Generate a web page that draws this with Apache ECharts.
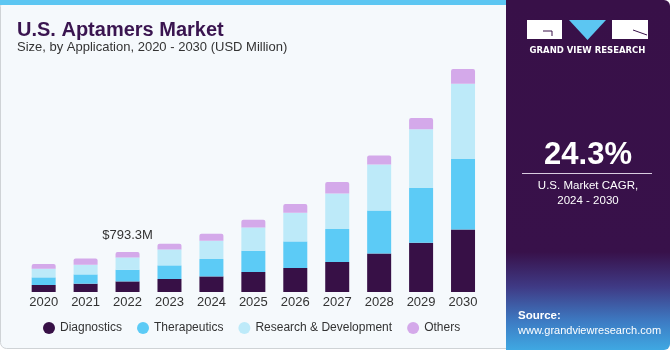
<!DOCTYPE html>
<html>
<head>
<meta charset="utf-8">
<script src="https://cdn.jsdelivr.net/npm/echarts@6/dist/echarts.min.js"></script>
<style>
    html, body { margin: 0; padding: 0; background: #ffffff; }
    #main { width: 670px; height: 350px; }
</style>
</head>
<body>
<div id="main"></div>
<script>
// data, USD million
var years = ['2020', '2021', '2022', '2023', '2024', '2025', '2026', '2027', '2028', '2029', '2030'];
var diagnostics = [139, 165, 210, 258, 309, 397, 476, 595, 765, 978, 1241];
var therapeutics = [151, 184, 232, 270, 345, 422, 527, 654, 853, 1085, 1396];
var researchDev = [173, 192, 244, 317, 363, 462, 569, 706, 912, 1162, 1493];
var others = [93, 125, 107, 113, 139, 153, 173, 226, 175, 226, 292];
var callout = { index: 2, text: '$793.3M' };
var cagrText = '24.3%';

var colors = ['#371046', '#5ccbf6', '#bdeaf9', '#d4a9ea'];

var myChart = echarts.init(document.getElementById('main'), null, {renderer: 'canvas'});

var othersData = [];
for (var i = 0; i < others.length; i++) {
    if (i === callout.index) {
        othersData.push({
            value: others[i],
            label: {
                show: true,
                position: 'top',
                distance: 10,
                formatter: callout.text,
                color: '#333333',
                fontSize: 13,
                fontFamily: 'Liberation Sans'
            }
        });
    } else {
        othersData.push(others[i]);
    }
}

function barSeries(name, data, color, radius) {
    return {
        name: name,
        type: 'bar',
        stack: 'total',
        barWidth: 24,
        itemStyle: {
            color: color,
            borderRadius: radius ? [2, 2, 0, 0] : 0
        },
        emphasis: { disabled: true },
        data: data
    };
}

var option = {
    animation: false,
    backgroundColor: '#ffffff',
    color: colors,
    graphic: [
        // left panel
        { type: 'rect', z: -10, shape: { x: 0.5, y: 0.5, width: 520, height: 348, r: 6 },
          style: { fill: '#f5f9fc', stroke: '#cfd3d6', lineWidth: 1 } },
        { type: 'rect', z: -9, shape: { x: 0, y: 0, width: 510, height: 5 },
          style: { fill: '#5cc6f2' } },
        { type: 'text', left: 17, top: 20,
          style: { text: 'U.S. Aptamers Market', fill: '#3a1550', font: 'bold 20px "Liberation Sans", Arial' } },
        { type: 'text', left: 17, top: 41,
          style: { text: 'Size, by Application, 2020 - 2030 (USD Million)', fill: '#333333', font: '13px "Liberation Sans", Arial' } },
        // right panel
        { type: 'rect', z: -8, shape: { x: 506, y: 0, width: 164, height: 350, r: [0, 6, 6, 0] },
          style: {
              fill: new echarts.graphic.LinearGradient(0, 0, 0, 1, [
                  { offset: 0, color: '#381048' },
                  { offset: 0.72, color: '#38114a' },
                  { offset: 0.82, color: '#3f3a85' },
                  { offset: 0.92, color: '#3d7cc4' },
                  { offset: 1, color: '#3fa8e2' }
              ])
          } },
        // logo
        { type: 'rect', shape: { x: 527, y: 20, width: 35, height: 19 }, style: { fill: '#ffffff' } },
        { type: 'polyline', shape: { points: [[543, 31], [552, 31], [552, 36]] }, style: { stroke: '#381048', lineWidth: 1, fill: null } },
        { type: 'polygon', shape: { points: [[569, 20], [606, 20], [587.5, 40]] }, style: { fill: '#5cc6f2' } },
        { type: 'rect', shape: { x: 612, y: 20, width: 36, height: 19 }, style: { fill: '#ffffff' } },
        { type: 'line', shape: { x1: 633, y1: 30, x2: 647, y2: 35 }, style: { stroke: '#381048', lineWidth: 1 } },
        { type: 'text', x: 587.5, y: 51,
          style: { text: 'GRAND VIEW RESEARCH', fill: '#ffffff', font: 'bold 8.5px "DejaVu Sans", sans-serif', align: 'center', verticalAlign: 'middle' } },
        { type: 'text', x: 588, y: 155,
          style: { text: cagrText, fill: '#ffffff', font: 'bold 31px "Liberation Sans", Arial', align: 'center', verticalAlign: 'middle' } },
        { type: 'line', shape: { x1: 522, y1: 173.5, x2: 652, y2: 173.5 }, style: { stroke: '#d8cce0', lineWidth: 1 } },
        { type: 'text', x: 588, y: 186,
          style: { text: 'U.S. Market CAGR,', fill: '#ffffff', font: '11.5px "Liberation Sans", Arial', align: 'center', verticalAlign: 'middle' } },
        { type: 'text', x: 588, y: 201,
          style: { text: '2024 - 2030', fill: '#ffffff', font: '11.5px "Liberation Sans", Arial', align: 'center', verticalAlign: 'middle' } },
        { type: 'text', x: 518, y: 316,
          style: { text: 'Source:', fill: '#ffffff', font: 'bold 11.5px "Liberation Sans", Arial', verticalAlign: 'middle' } },
        { type: 'text', x: 518, y: 331,
          style: { text: 'www.grandviewresearch.com', fill: '#ffffff', font: '11px "Liberation Sans", Arial', verticalAlign: 'middle' } }
    ],
    legend: {
        left: 38,
        top: 317,
        itemWidth: 12,
        itemHeight: 12,
        itemGap: 15,
        icon: 'circle',
        textStyle: { color: '#333333', fontSize: 12, fontFamily: 'Liberation Sans' },
        data: ['Diagnostics', 'Therapeutics', 'Research & Development', 'Others']
    },
    grid: {
        left: 22.7,
        right: 186,
        top: 60,
        bottom: 58,
        containLabel: false
    },
    xAxis: {
        type: 'category',
        data: years,
        axisLine: { show: false },
        axisTick: { show: false },
        axisLabel: { interval: 0, color: '#333333', fontSize: 13, fontFamily: 'Liberation Sans', margin: 4 }
    },
    yAxis: {
        type: 'value',
        min: 0,
        max: 4600,
        show: false,
        splitLine: { show: false }
    },
    series: [
        barSeries('Diagnostics', diagnostics, colors[0], false),
        barSeries('Therapeutics', therapeutics, colors[1], false),
        barSeries('Research & Development', researchDev, colors[2], false),
        barSeries('Others', othersData, colors[3], true)
    ]
};

myChart.setOption(option, false);
</script>
</body>
</html>
